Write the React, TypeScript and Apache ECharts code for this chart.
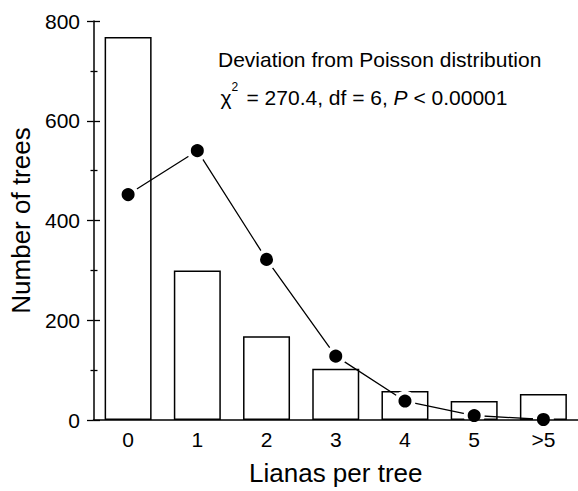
import React, { useEffect, useRef } from "react";
import * as echarts from "echarts";

const categories = ["0", "1", "2", "3", "4", "5", ">5"];
const observed = [768, 300, 168, 103, 58, 38, 52];
const expected = [452, 540, 322, 128, 38, 9, 1];
const yTicks = { min: 0, max: 800, interval: 200 };

const FONT = "'Liberation Sans', Arial, Helvetica, sans-serif";

export default function App() {
  const ref = useRef<HTMLDivElement>(null);
  useEffect(() => {
    document.body.style.margin = "0";
    const chart = echarts.init(ref.current!, null, { renderer: "svg" });
    const baseY = {
      type: "value",
      min: yTicks.min,
      max: yTicks.max,
      interval: yTicks.interval,
      position: "left",
      splitLine: { show: false },
    };
    chart.setOption({
      animation: false,
      backgroundColor: "#fff",
      grid: { left: 93.5, top: 21, width: 490, bottom: 69.5, containLabel: false },
      xAxis: {
        type: "category",
        data: categories,
        boundaryGap: true,
        z: 5,
        axisLine: { show: true, lineStyle: { color: "#000", width: 1.5 } },
        axisTick: { show: false },
        axisLabel: { color: "#000", fontSize: 21, fontFamily: FONT, margin: 9 },
        name: "Lianas per tree",
        nameLocation: "middle",
        nameGap: 40,
        nameTextStyle: { color: "#000", fontSize: 26, fontFamily: FONT },
      },
      yAxis: [
        {
          ...baseY,
          z: 5,
          axisLine: { show: true, lineStyle: { color: "#000", width: 1.5 } },
          axisTick: { show: true, inside: false, length: 6.5, lineStyle: { color: "#000", width: 1.3 } },
          minorTick: { show: true, splitNumber: 2, length: 3, lineStyle: { color: "#000", width: 1.3 } },
          axisLabel: { color: "#000", fontSize: 21, fontFamily: FONT, margin: 13.5 },
          name: "Number of trees",
          nameLocation: "middle",
          nameGap: 58,
          nameTextStyle: { color: "#000", fontSize: 26, fontFamily: FONT },
        },
        {
          ...baseY,
          z: 5,
          axisLine: { show: false },
          axisTick: { show: true, inside: true, length: 6.5, lineStyle: { color: "#000", width: 1.3 } },
          minorTick: { show: true, splitNumber: 2, length: 4, lineStyle: { color: "#000", width: 1.3 } },
          axisLabel: { show: false },
        },
      ],
      series: [
        {
          type: "bar",
          data: observed,
          barWidth: 47,
          itemStyle: { color: "#fff", borderColor: "#000", borderWidth: 1.5 },
          z: 2,
        },
        {
          type: "line",
          data: expected,
          symbol: "circle",
          symbolSize: 17,
          itemStyle: { color: "#000", borderColor: "#fff", borderWidth: 4 },
          lineStyle: { color: "#000", width: 1.3 },
          z: 3,
        },
      ],
      graphic: [
        {
          type: "text",
          x: 218,
          y: 59.5,
          style: {
            text: "Deviation from Poisson distribution",
            font: `21px ${FONT}`,
            fill: "#000",
            verticalAlign: "middle",
          },
        },
        {
          type: "text",
          x: 220.5,
          y: 97.6,
          style: { text: "χ", font: `21px ${FONT}`, fill: "#000", verticalAlign: "middle" },
        },
        {
          type: "text",
          x: 231.5,
          y: 87,
          style: { text: "2", font: `12px ${FONT}`, fill: "#000", verticalAlign: "middle" },
        },
        {
          type: "text",
          x: 246.5,
          y: 97.6,
          style: {
            text: "= 270.4, df = 6, {i|P} < 0.00001",
            font: `21px ${FONT}`,
            fill: "#000",
            verticalAlign: "middle",
            rich: {
              i: { fontStyle: "italic", fontSize: 21, fontFamily: FONT, fill: "#000" },
            },
          },
        },
      ],
    });
    return () => chart.dispose();
  }, []);
  return <div ref={ref} style={{ width: 578, height: 491 }} />;
}
